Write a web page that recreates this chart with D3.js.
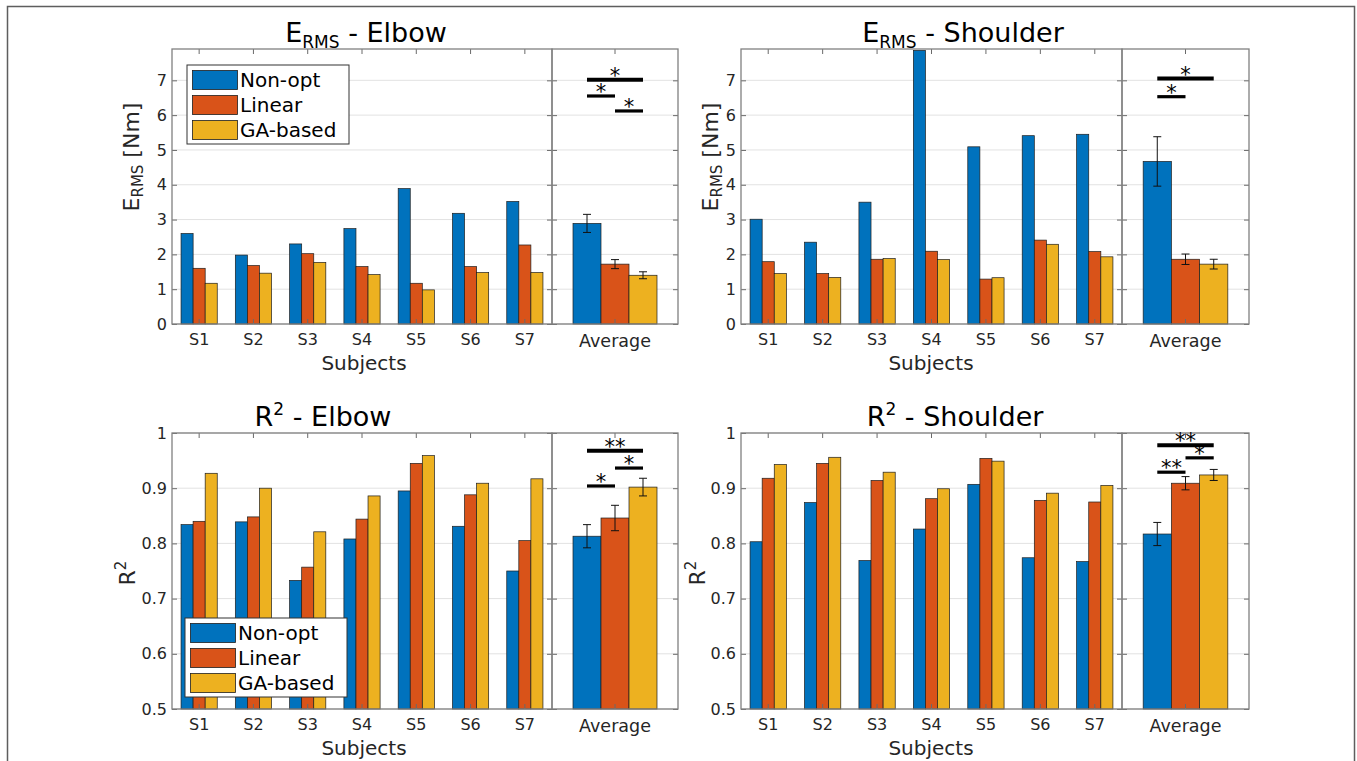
<!DOCTYPE html>
<html><head><meta charset="utf-8">
<script src="https://cdn.jsdelivr.net/npm/d3@7"></script>
<style>
body{margin:0;background:#fff}
svg{display:block}
text{font-family:"DejaVu Sans",sans-serif}
</style>
</head><body>
<svg id="c" width="1357" height="761"></svg>
<script>
// ---------- data ----------
const subjects = ["S1","S2","S3","S4","S5","S6","S7"];
const series = ["Non-opt","Linear","GA-based"];
const seriesColors = ["#0072BD","#D95319","#EDB120"];
const avgCategory = ["Average"];

const ermsTicks = [0,1,2,3,4,5,6,7];
const r2Ticks = [0.5,0.6,0.7,0.8,0.9,1];

const ermsElbowNonOpt = [2.60,1.98,2.30,2.74,3.89,3.18,3.52];
const ermsElbowLinear = [1.60,1.68,2.02,1.65,1.17,1.65,2.27];
const ermsElbowGA     = [1.17,1.46,1.77,1.42,0.98,1.48,1.48];
const ermsElbowAvg    = [2.89,1.72,1.40];
const ermsElbowErr    = [0.26,0.13,0.10];
const ermsElbowSig    = [[0,2,7.02,"*"],[0,1,6.55,"*"],[1,2,6.12,"*"]];

const ermsShoulderNonOpt = [3.01,2.35,3.50,7.86,5.09,5.41,5.45];
const ermsShoulderLinear = [1.79,1.45,1.86,2.09,1.29,2.41,2.08];
const ermsShoulderGA     = [1.45,1.34,1.88,1.85,1.33,2.29,1.93];
const ermsShoulderAvg    = [4.67,1.86,1.72];
const ermsShoulderErr    = [0.71,0.15,0.14];
const ermsShoulderSig    = [[0,2,7.05,"*"],[0,1,6.53,"*"]];

const r2ElbowNonOpt = [0.834,0.839,0.733,0.808,0.895,0.831,0.750];
const r2ElbowLinear = [0.840,0.848,0.757,0.844,0.945,0.888,0.805];
const r2ElbowGA     = [0.927,0.900,0.821,0.886,0.959,0.909,0.917];
const r2ElbowAvg    = [0.813,0.846,0.902];
const r2ElbowErr    = [0.021,0.023,0.016];
const r2ElbowSig    = [[0,2,0.968,"**"],[1,2,0.9365,"*"],[0,1,0.904,"*"]];

const r2ShoulderNonOpt = [0.803,0.874,0.769,0.826,0.907,0.774,0.767];
const r2ShoulderLinear = [0.918,0.945,0.914,0.881,0.954,0.878,0.875];
const r2ShoulderGA     = [0.943,0.956,0.929,0.899,0.949,0.891,0.905];
const r2ShoulderAvg    = [0.817,0.909,0.924];
const r2ShoulderErr    = [0.021,0.012,0.010];
const r2ShoulderSig    = [[0,2,0.978,"**"],[1,2,0.955,"*"],[0,1,0.929,"**"]];

// ---------- drawing ----------
const svg = d3.select("#c");
svg.append("rect").attr("x",7.5).attr("y",6.5).attr("width",1347).attr("height",800)
  .attr("fill","none").attr("stroke","#5e5e5e").attr("stroke-width",1.5);

const AX = "#808080", TXT = "#262626";

function styleAxis(g, fs){
  g.select(".domain").remove();
  g.selectAll(".tick line").attr("stroke","#6a6a6a").attr("stroke-width",1);
  g.selectAll(".tick text").attr("fill",TXT).attr("font-size",fs).attr("font-family","DejaVu Sans");
}

function panel(c){
  const g = svg.append("g");
  const y = d3.scaleLinear().domain(c.yDomain).range([c.bottom,c.top]);
  const xMain = d3.scaleBand().domain(subjects).range([c.left,c.sep]).paddingInner(1/3).paddingOuter(1/6);
  const xS = d3.scaleBand().domain(series).range([0,xMain.bandwidth()]);
  const xAvg = d3.scaleBand().domain(avgCategory).range([c.sep,c.right]).paddingInner(1/3).paddingOuter(1/6);
  const xSA = d3.scaleBand().domain(series).range([0,xAvg.bandwidth()]);

  // grid
  g.append("g").selectAll("line").data(c.ticks).join("line")
    .attr("x1",c.left).attr("x2",c.right).attr("y1",d=>y(d)).attr("y2",d=>y(d))
    .attr("stroke","#e2e2e2").attr("stroke-width",1);

  // subject bars
  c.values.forEach((vals,si)=>{
    g.append("g").selectAll("rect").data(vals).join("rect")
      .attr("x",(d,i)=>xMain(subjects[i])+xS(series[si]))
      .attr("width",xS.bandwidth())
      .attr("y",d=>y(d)).attr("height",d=>c.bottom-y(d))
      .attr("fill",seriesColors[si]).attr("stroke","#1e1e1e").attr("stroke-width",0.7);
  });
  // average bars
  g.append("g").selectAll("rect").data(c.avg).join("rect")
    .attr("x",(d,i)=>xAvg("Average")+xSA(series[i]))
    .attr("width",xSA.bandwidth())
    .attr("y",d=>y(d)).attr("height",d=>c.bottom-y(d))
    .attr("fill",(d,i)=>seriesColors[i]).attr("stroke","#1e1e1e").attr("stroke-width",0.7);
  // error bars
  const cx = i => xAvg("Average")+xSA(series[i])+xSA.bandwidth()/2;
  const eg = g.append("g").attr("stroke","#111").attr("stroke-width",1);
  c.avg.forEach((m,i)=>{
    const e = c.err[i], x = cx(i);
    eg.append("line").attr("x1",x).attr("x2",x).attr("y1",y(m+e)).attr("y2",y(m-e));
    eg.append("line").attr("x1",x-4).attr("x2",x+4).attr("y1",y(m+e)).attr("y2",y(m+e));
    eg.append("line").attr("x1",x-4).attr("x2",x+4).attr("y1",y(m-e)).attr("y2",y(m-e));
  });

  // axes ticks
  const fmt = c.fmt;
  g.append("g").attr("transform",`translate(${c.left},0)`)
    .call(d3.axisLeft(y).tickValues(c.ticks).tickSize(-5).tickPadding(5).tickFormat(fmt))
    .call(a=>styleAxis(a,16));
  g.append("g").attr("transform",`translate(${c.sep},0)`)
    .call(d3.axisRight(y).tickValues(c.ticks).tickSize(-5).tickFormat(""))
    .call(a=>styleAxis(a,16));
  g.append("g").attr("transform",`translate(${c.sep},0)`)
    .call(d3.axisLeft(y).tickValues(c.ticks).tickSize(-5).tickFormat(""))
    .call(a=>styleAxis(a,16));
  g.append("g").attr("transform",`translate(${c.right},0)`)
    .call(d3.axisRight(y).tickValues(c.ticks).tickSize(-5).tickFormat(""))
    .call(a=>styleAxis(a,16));
  g.append("g").attr("transform",`translate(0,${c.bottom})`)
    .call(d3.axisBottom(xMain).tickSize(-5).tickPadding(10))
    .call(a=>styleAxis(a,16));
  g.append("g").attr("transform",`translate(0,${c.top})`)
    .call(d3.axisTop(xMain).tickSize(-5).tickFormat(""))
    .call(a=>styleAxis(a,16));
  g.append("g").attr("transform",`translate(0,${c.bottom})`)
    .call(d3.axisBottom(xAvg).tickSize(-5).tickPadding(11))
    .call(a=>styleAxis(a,17.5));
  g.append("g").attr("transform",`translate(0,${c.top})`)
    .call(d3.axisTop(xAvg).tickSize(-5).tickFormat(""))
    .call(a=>styleAxis(a,16));

  // box
  g.append("rect").attr("x",c.left).attr("y",c.top).attr("width",c.sep-c.left).attr("height",c.bottom-c.top)
    .attr("fill","none").attr("stroke",AX).attr("stroke-width",1.3);
  g.append("rect").attr("x",c.sep).attr("y",c.top).attr("width",c.right-c.sep).attr("height",c.bottom-c.top)
    .attr("fill","none").attr("stroke",AX).attr("stroke-width",1.3);

  // significance
  c.sig.forEach(([a,b,v,lab])=>{
    const w = (b-a)===2 ? 4 : 3.2;
    g.append("line").attr("x1",cx(a)).attr("x2",cx(b)).attr("y1",y(v)).attr("y2",y(v))
      .attr("stroke","#000").attr("stroke-width",w);
    g.append("text").attr("x",(cx(a)+cx(b))/2).attr("y",y(v)+3).attr("text-anchor","middle")
      .attr("font-size",21).attr("fill","#000").text(lab);
  });

  // x label
  g.append("text").attr("x",c.xlabX).attr("y",c.bottom+46).attr("text-anchor","middle")
    .attr("font-size",20).attr("fill",TXT).text("Subjects");

  // title
  const t = g.append("text").attr("x",c.titleX).attr("y",c.top-7).attr("text-anchor","middle")
    .attr("font-size",27).attr("fill","#000");
  t.append("tspan").text(c.title[0]);
  if(c.title[2]==="sub"){
    t.append("tspan").attr("font-size",17).attr("dy",6).text(c.title[1]);
    t.append("tspan").attr("dy",-6).text(c.title[3]);
  } else {
    t.append("tspan").attr("font-size",17).attr("dy",-11).text(c.title[1]);
    t.append("tspan").attr("dy",11).text(c.title[3]);
  }

  // y label
  const yl = g.append("text").attr("transform",`translate(${c.ylabX},${c.ylabY}) rotate(-90)`)
    .attr("text-anchor","middle").attr("font-size",22).attr("fill",TXT);
  yl.append("tspan").text(c.ylab[0]);
  if(c.ylab[2]==="sub"){
    yl.append("tspan").attr("font-size",15).attr("dy",4).text(c.ylab[1]);
    yl.append("tspan").attr("dy",-4).text(c.ylab[3]);
  } else {
    yl.append("tspan").attr("font-size",15).attr("dy",-9).text(c.ylab[1]);
  }

  // legend
  if(c.legend){
    const L = g.append("g").attr("transform",`translate(${c.legend[0]},${c.legend[1]})`);
    L.append("rect").attr("width",162).attr("height",79).attr("fill","#fff").attr("stroke","#333").attr("stroke-width",1);
    series.forEach((s,i)=>{
      L.append("rect").attr("x",5.5).attr("y",5.5+i*25).attr("width",45).attr("height",19)
        .attr("fill",seriesColors[i]).attr("stroke","#1e1e1e").attr("stroke-width",0.8);
      L.append("text").attr("x",53).attr("y",15+i*25).attr("dy","0.36em")
        .attr("font-size",20).attr("fill","#000").text(s);
    });
  }
}

const fmtInt = d3.format("d");
const fmtR2 = d => d===1 ? "1" : d3.format(".1f")(d);

panel({left:172,sep:552,right:678,top:49,bottom:324,yDomain:[0,7.9],ticks:ermsTicks,fmt:fmtInt,
  values:[ermsElbowNonOpt,ermsElbowLinear,ermsElbowGA],avg:ermsElbowAvg,err:ermsElbowErr,sig:ermsElbowSig,
  title:["E","RMS","sub"," - Elbow"],titleX:366,ylab:["E","RMS","sub"," [Nm]"],ylabX:139,ylabY:157,
  xlabX:364,legend:[187,65]});
panel({left:741,sep:1122,right:1249,top:49,bottom:324,yDomain:[0,7.9],ticks:ermsTicks,fmt:fmtInt,
  values:[ermsShoulderNonOpt,ermsShoulderLinear,ermsShoulderGA],avg:ermsShoulderAvg,err:ermsShoulderErr,sig:ermsShoulderSig,
  title:["E","RMS","sub"," - Shoulder"],titleX:963,ylab:["E","RMS","sub"," [Nm]"],ylabX:718,ylabY:157,
  xlabX:931,legend:null});
panel({left:172,sep:552,right:678,top:433,bottom:709,yDomain:[0.5,1],ticks:r2Ticks,fmt:fmtR2,
  values:[r2ElbowNonOpt,r2ElbowLinear,r2ElbowGA],avg:r2ElbowAvg,err:r2ElbowErr,sig:r2ElbowSig,
  title:["R","2","sup"," - Elbow"],titleX:323,ylab:["R","2","sup",""],ylabX:135,ylabY:573,
  xlabX:364,legend:[185,618]});
panel({left:741,sep:1122,right:1249,top:433,bottom:709,yDomain:[0.5,1],ticks:r2Ticks,fmt:fmtR2,
  values:[r2ShoulderNonOpt,r2ShoulderLinear,r2ShoulderGA],avg:r2ShoulderAvg,err:r2ShoulderErr,sig:r2ShoulderSig,
  title:["R","2","sup"," - Shoulder"],titleX:955,ylab:["R","2","sup",""],ylabX:705,ylabY:573,
  xlabX:931,legend:null});
</script>
</body></html>
